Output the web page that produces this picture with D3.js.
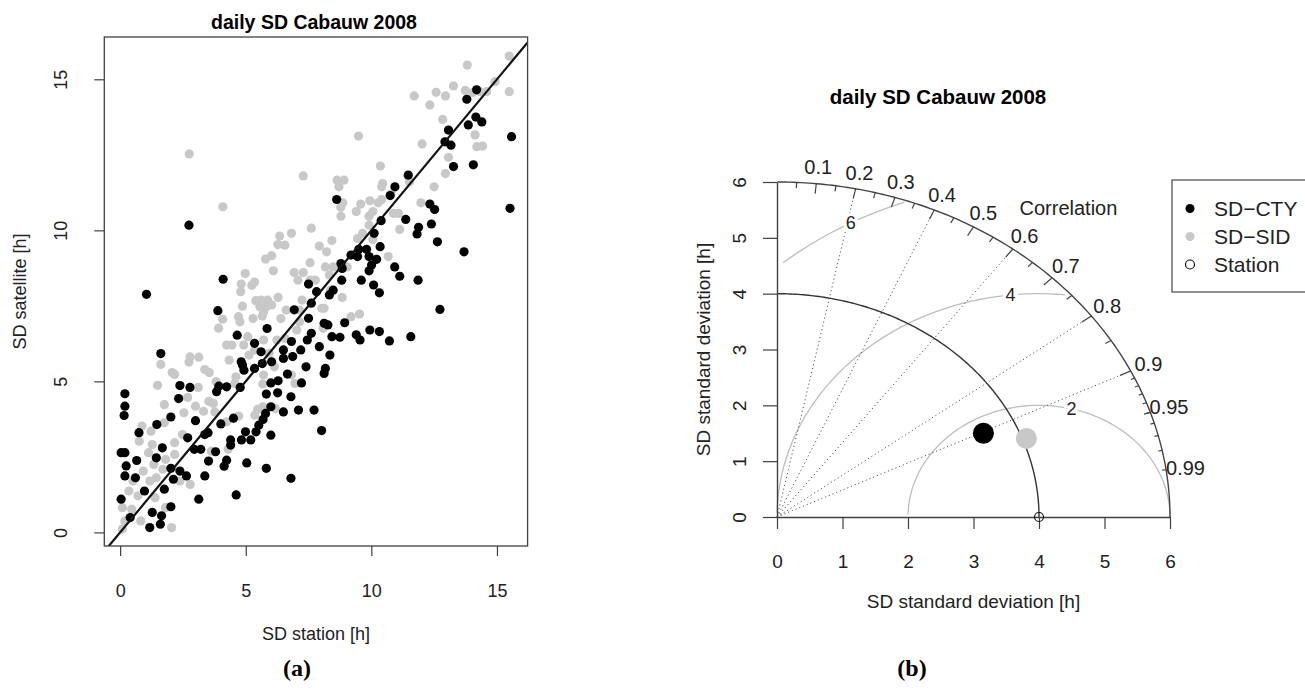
<!DOCTYPE html>
<html lang="en">
<head>
<meta charset="UTF-8">
<title>daily SD Cabauw 2008</title>
<script src="https://d3js.org/d3.v7.min.js"></script>
<style>
  body { margin: 0; background: #fff; }
  svg { font-family: "Liberation Sans", Arial, sans-serif; }
</style>
</head>
<body>
<svg id="chart" width="1305" height="688"></svg>
<script>
// scatter, [SD station, SD satellite] in hours
const sdCty = [
  [0.19,4.59],[0.19,4.18],[0.16,3.87],[2.38,4.86],[2.78,4.80],[2.33,4.43],[2.02,3.82],[1.46,3.57],[0.75,3.30],[3.00,3.70],
  [3.37,3.24],[2.69,3.13],[1.68,2.80],[0.04,2.64],[0.19,2.64],[0.66,2.38],[2.95,2.75],[3.21,2.75],[3.52,2.36],[0.24,2.20],
  [1.44,2.47],[2.02,2.12],[2.38,2.03],[2.64,1.87],[3.37,1.87],[0.19,1.87],[0.61,1.81],[0.97,1.37],[1.76,1.43],[2.12,1.76],
  [3.13,1.10],[0.04,1.10],[1.28,0.66],[1.65,0.55],[1.60,0.27],[1.18,0.16],[2.02,0.85],[0.40,0.49],
  [1.05,7.88],[1.62,5.92],[2.74,10.17],
  [3.84,4.66],[4.24,4.82],[4.78,4.80],[5.82,4.58],[6.27,4.62],[6.00,4.95],[7.22,4.95],[6.80,4.49],[6.50,3.99],[7.10,4.05],
  [7.72,4.05],[8.02,3.37],[6.00,4.16],[5.79,3.94],[5.69,3.74],[5.52,3.55],[5.41,3.33],[4.99,3.33],[4.83,3.06],[5.20,3.06],
  [6.00,3.22],[4.51,3.78],[4.01,3.59],[3.50,3.30],[4.40,3.06],[4.40,2.89],[3.80,2.67],[4.24,2.39],[4.14,2.19],[5.04,2.30],
  [5.82,2.12],[6.80,1.79],[4.62,1.24],
  [4.10,8.38],[3.89,7.34],[4.66,6.53],[5.85,6.75],[5.35,6.26],[5.61,5.98],[4.87,5.54],[4.93,5.37],[5.35,5.43],[5.66,5.59],
  [6.03,5.65],[6.50,6.04],[6.50,5.76],[6.87,5.82],[7.19,6.04],[6.82,6.32],[6.93,7.37],[7.50,7.09],[7.45,6.37],[7.61,6.59],
  [7.93,6.15],[7.82,7.97],[7.61,7.59],[7.50,8.22],[7.40,5.48],[6.66,5.24],[6.29,5.02],[3.93,4.84],[4.82,5.65],
  [10.39,10.32],[11.37,10.36],[11.88,10.10],[11.82,9.88],[12.39,10.21],[12.63,9.62],[10.11,9.90],[10.35,9.46],[9.81,9.37],
  [9.50,9.37],[9.45,9.13],[9.19,9.18],[9.91,9.13],[10.21,9.04],[10.01,8.85],[9.91,8.66],[8.79,8.90],[8.84,8.74],[8.82,8.35],
  [9.60,8.35],[10.09,8.19],[10.32,7.93],[10.93,8.79],[11.13,8.48],[11.86,8.35],[12.73,7.38],[8.48,8.02],[8.33,7.86],
  [8.12,6.92],[8.27,6.87],[8.94,6.94],[8.43,6.48],[8.75,6.46],[9.40,6.54],[9.55,6.37],[9.94,6.70],[10.32,6.65],[10.72,6.34],
  [11.57,6.48],[8.35,5.87],[8.17,5.43],[8.12,5.26],
  [12.93,12.93],[10.94,11.44],[11.47,11.83],[8.62,11.02],[12.33,10.87],[12.52,10.69],[10.75,11.15],
  [13.07,13.32],[13.17,12.82],[13.27,12.11],[13.80,14.34],[13.86,13.49],[14.16,13.75],[14.40,13.59],[14.19,14.65],
  [14.06,12.17],[15.58,13.10],[15.52,10.73],[13.69,9.29]
];
const sdSid = [
  [1.49,4.87],[1.76,4.23],[3.11,4.80],[2.69,4.47],[3.00,4.18],[3.32,4.01],[3.53,4.34],[2.54,3.96],[1.76,3.63],[0.87,3.52],
  [1.23,3.35],[0.76,3.02],[1.28,2.91],[2.17,2.97],[2.48,3.24],[2.17,2.58],[1.13,2.64],[1.34,2.25],[1.70,2.09],[0.92,2.03],
  [0.51,1.70],[1.44,1.81],[2.38,1.70],[2.79,1.59],[0.35,1.37],[0.71,1.21],[1.39,1.15],[0.09,0.82],[0.46,0.77],[0.19,0.38],
  [0.09,0.11],[0.82,0.38],[1.81,0.82],[2.05,0.16],[3.63,2.69],[1.18,1.70],[1.81,2.42],
  [1.62,5.56],[2.78,5.81],[2.74,5.64],[3.13,5.80],[3.37,5.39],[3.55,5.29],[2.07,5.29],[2.17,5.23],
  [3.82,4.99],[4.56,4.93],[5.68,4.91],[6.96,4.93],[3.71,4.27],[3.77,3.99],[4.24,3.66],[4.72,3.85],[5.36,3.88],[5.47,4.07],
  [5.68,4.16],[6.18,4.10],[4.30,2.75],
  [6.82,9.90],[7.61,10.07],[6.35,9.81],[6.28,9.53],[6.56,9.51],[7.93,9.48],[5.79,9.05],[6.03,9.16],[6.10,8.66],[7.56,8.93],
  [6.93,8.60],[4.98,8.57],[7.29,8.60],[7.08,8.35],[5.35,8.29],[4.82,8.22],[5.24,8.18],[4.80,7.97],[7.77,8.35],[6.29,7.78],
  [5.40,7.67],[5.61,7.69],[5.87,7.69],[6.03,7.53],[5.56,7.47],[5.71,7.30],[5.82,7.47],[5.66,7.16],[4.87,7.49],[5.29,7.08],
  [4.77,6.97],[4.08,7.06],[3.92,6.76],[4.71,7.14],[5.08,6.48],[4.92,6.20],[4.24,6.20],[4.45,6.20],[5.13,5.87],[4.34,5.70],
  [4.61,5.15],[6.40,7.08],[6.61,7.36],[7.14,7.36],[7.24,7.69],[7.14,6.97],[7.03,6.70],[6.24,6.37],[6.56,6.42],[5.71,6.37],
  [5.35,6.04],[5.93,5.93],[6.14,5.48],[6.82,5.21],[5.71,5.21],[8.03,7.42],[8.08,6.76],[7.56,8.35],
  [8.79,10.47],[9.40,10.62],[9.91,10.47],[10.06,10.62],[10.88,10.56],[11.08,10.56],[11.13,10.03],[9.91,10.17],[8.43,9.66],
  [9.45,9.73],[9.65,9.90],[10.06,9.70],[8.22,9.29],[8.48,8.79],[9.04,8.79],[8.17,8.79],[8.33,8.52],[10.67,9.13],[8.38,8.02],
  [8.84,7.78],[8.12,7.42],[9.19,7.14],[9.53,7.23],
  [11.71,14.45],[12.58,14.57],[12.33,14.15],[12.95,14.45],[12.84,13.67],[9.49,13.12],[12.02,12.86],[10.36,12.13],
  [10.45,11.55],[10.41,11.44],[8.64,11.66],[8.91,11.66],[8.71,11.44],[11.46,11.79],[11.52,11.61],[12.50,11.44],
  [12.95,11.88],[8.86,10.91],[8.78,10.76],[9.58,10.87],[9.94,10.98],[10.27,10.91],[10.41,11.02],[11.97,10.91],[10.78,11.20],
  [2.75,12.53],[7.29,11.80],[4.09,10.78],
  [13.82,15.47],[13.27,14.78],[13.74,14.63],[14.04,14.56],[14.33,14.59],[14.59,14.59],[14.92,14.92],[15.49,14.59],
  [15.49,15.77],[14.13,13.16],[14.20,12.77],[14.43,12.79],[13.07,12.42]
];
const scatterTicks = [0, 5, 10, 15];

// taylor diagram
const taylorNames = ["SD\u2212CTY", "SD\u2212SID", "Station"];
const taylorSd = [3.49, 4.06, 4.0];
const taylorCor = [0.903, 0.938, 1];
const taylorColors = ["#000000", "#c8c8c8", "none"];
const sdTicks = [0, 1, 2, 3, 4, 5, 6];
const corLabels = [0.1, 0.2, 0.3, 0.4, 0.5, 0.6, 0.7, 0.8, 0.9, 0.95, 0.99];
const corLines = [0.2, 0.4, 0.6, 0.8, 0.9];
const rmsLevels = [2, 4, 6];

const svg = d3.select("#chart");

// ---------- (a) scatter ----------
const x = d3.scaleLinear().domain([-0.63, 16.22]).range([104.3, 527.6]);
const y = d3.scaleLinear().domain([-0.45, 16.4]).range([546, 37]);

const left = svg.append("g");
left.append("clipPath").attr("id", "box")
  .append("rect")
  .attr("x", x.range()[0]).attr("y", y.range()[1])
  .attr("width", x.range()[1] - x.range()[0])
  .attr("height", y.range()[0] - y.range()[1]);

left.append("g").selectAll("circle")
  .data(sdSid).join("circle")
  .attr("cx", d => x(d[0])).attr("cy", d => y(d[1]))
  .attr("r", 4.6).attr("fill", "#c8c8c8");

left.append("g").selectAll("circle")
  .data(sdCty).join("circle")
  .attr("cx", d => x(d[0])).attr("cy", d => y(d[1]))
  .attr("r", 4.6).attr("fill", "#000");

// 1:1 line
left.append("line")
  .attr("clip-path", "url(#box)")
  .attr("x1", x(-1)).attr("y1", y(-1))
  .attr("x2", x(17)).attr("y2", y(17))
  .attr("stroke", "#111").attr("stroke-width", 2.2);

left.append("rect")
  .attr("x", x.range()[0]).attr("y", y.range()[1])
  .attr("width", x.range()[1] - x.range()[0])
  .attr("height", y.range()[0] - y.range()[1])
  .attr("fill", "none").attr("stroke", "#404040").attr("stroke-width", 1.3);

const xAxis = left.append("g")
  .attr("transform", `translate(0,${y.range()[0]})`)
  .call(d3.axisBottom(x).tickValues(scatterTicks).tickSize(10).tickPadding(28));
const yAxis = left.append("g")
  .attr("transform", `translate(${x.range()[0]},0)`)
  .call(d3.axisLeft(y).tickValues(scatterTicks).tickSize(10));

[xAxis, yAxis].forEach(g => {
  g.select(".domain").remove();
  g.attr("font-family", null).attr("font-size", null);
  g.selectAll("line").attr("stroke", "#404040").attr("stroke-width", 1.2);
  g.selectAll("text").attr("font-size", 18).attr("fill", "#222");
});
yAxis.selectAll("text")
  .attr("x", null).attr("dy", "0.36em")
  .attr("text-anchor", "middle")
  .attr("transform", "translate(-44,0) rotate(-90)");

left.append("text")
  .attr("x", 314).attr("y", 29)
  .attr("text-anchor", "middle").attr("font-weight", "bold").attr("font-size", 19.5)
  .text("daily SD Cabauw 2008");
left.append("text")
  .attr("x", (x.range()[0] + x.range()[1]) / 2).attr("y", 640)
  .attr("text-anchor", "middle").attr("font-size", 18).attr("fill", "#222")
  .text("SD station [h]");
left.append("text")
  .attr("transform", `translate(20,${(y.range()[0] + y.range()[1]) / 2}) rotate(-90)`)
  .attr("dy", "0.36em")
  .attr("text-anchor", "middle").attr("font-size", 18).attr("fill", "#222")
  .text("SD satellite [h]");
left.append("text")
  .attr("x", 297).attr("y", 676)
  .attr("text-anchor", "middle").attr("font-family", "'Liberation Serif', 'Times New Roman', serif")
  .attr("font-weight", "bold").attr("font-size", 24)
  .text("(a)");

// ---------- (b) taylor diagram ----------
const maxSd = d3.max(sdTicks);
const sdRef = taylorSd[2];
const tx = d3.scaleLinear().domain([0, maxSd]).range([777, 1170]);
const ty = d3.scaleLinear().domain([0, maxSd]).range([517, 182]);
const polar = (r, a) => [tx(r * Math.cos(a)), ty(r * Math.sin(a))];
const line = d3.line();

const right = svg.append("g");

// centred RMS arcs (sampled like plotrix::taylor.diagram)
const steps = d3.range(0, 105).map(i => i * 0.03);
const labelIdx = d3.range(rmsLevels.length).map(i =>
  Math.floor(45 + i * (70 - 45) / (rmsLevels.length - 1)) - 1);
rmsLevels.forEach((g, gi) => {
  const xs = steps.map(a => Math.cos(a) * g + sdRef);
  const ys = steps.map(a => Math.sin(a) * g);
  let end = xs.findIndex(v => v < 0);
  end = end >= 0 ? end - 1 : steps.length - 1;
  let start = -1;
  xs.forEach((v, i) => { if (v * v + ys[i] * ys[i] > maxSd * maxSd) start = i; });
  start += 1;
  const pts = d3.range(start, end + 1).map(i => [tx(xs[i]), ty(ys[i])]);
  right.append("path").attr("d", line(pts))
    .attr("fill", "none").attr("stroke", "#bebebe").attr("stroke-width", 1.3);
});

// correlation rays
right.append("g").selectAll("line")
  .data(corLines).join("line")
  .attr("x1", tx(0)).attr("y1", ty(0))
  .attr("x2", c => polar(maxSd, Math.acos(c))[0])
  .attr("y2", c => polar(maxSd, Math.acos(c))[1])
  .attr("stroke", "#555").attr("stroke-width", 1).attr("stroke-dasharray", "1.2,2.8");

// reference sd arc and outer arc
const quarter = d3.range(0, Math.PI / 2 + 0.005, 0.01).map(a => Math.min(a, Math.PI / 2));
right.append("path").attr("d", line(quarter.map(a => polar(sdRef, a))))
  .attr("fill", "none").attr("stroke", "#333").attr("stroke-width", 1.4);
right.append("path").attr("d", line(quarter.map(a => polar(maxSd, a))))
  .attr("fill", "none").attr("stroke", "#444").attr("stroke-width", 1.4);

// correlation ticks on the outer arc
const bigTicks = d3.range(1, 10).map(i => i / 10);
const medTicks = d3.range(0, 10).map(i => 0.05 + i / 10);
const smlTicks = d3.range(1, 10).map(i => 0.9 + i / 100);
[[bigTicks, 0.97], [medTicks, 0.983], [smlTicks, 0.99]].forEach(([set, f]) => {
  right.append("g").selectAll("line")
    .data(set).join("line")
    .attr("x1", c => polar(maxSd, Math.acos(c))[0])
    .attr("y1", c => polar(maxSd, Math.acos(c))[1])
    .attr("x2", c => polar(maxSd * f, Math.acos(c))[0])
    .attr("y2", c => polar(maxSd * f, Math.acos(c))[1])
    .attr("stroke", "#444").attr("stroke-width", 1.2);
});

right.append("g").selectAll("text")
  .data(corLabels).join("text")
  .attr("x", c => polar(maxSd * 1.05, Math.acos(c))[0])
  .attr("y", c => polar(maxSd * 1.05, Math.acos(c))[1])
  .attr("dy", "0.36em").attr("text-anchor", "middle")
  .attr("font-size", 20).attr("fill", "#222")
  .text(c => String(c));
right.append("text")
  .attr("x", tx(4.45)).attr("y", ty(5.53)).attr("dy", "0.36em")
  .attr("text-anchor", "middle").attr("font-size", 20).attr("fill", "#222")
  .text("Correlation");

// RMS labels with white backing
right.append("g").selectAll("text")
  .data(rmsLevels).join("text")
  .attr("x", (g, i) => tx(Math.cos(steps[labelIdx[i]]) * g + sdRef))
  .attr("y", (g, i) => ty(Math.sin(steps[labelIdx[i]]) * g))
  .attr("dy", "0.36em").attr("text-anchor", "middle")
  .attr("font-size", 18).attr("fill", "#222")
  .attr("stroke", "#fff").attr("stroke-width", 6).attr("paint-order", "stroke")
  .text(g => g);

// axes
const txAxis = right.append("g")
  .attr("transform", `translate(0,${ty(0)})`)
  .call(d3.axisBottom(tx).tickValues(sdTicks).tickFormat(d3.format("d"))
    .tickSize(12).tickSizeOuter(0).tickPadding(26));
const tyAxis = right.append("g")
  .attr("transform", `translate(${tx(0)},0)`)
  .call(d3.axisLeft(ty).tickValues(sdTicks).tickFormat(d3.format("d"))
    .tickSize(14).tickSizeOuter(0));
[txAxis, tyAxis].forEach(g => {
  g.attr("font-family", null).attr("font-size", null);
  g.select(".domain").attr("stroke", "#404040").attr("stroke-width", 1.4);
  g.selectAll("line").attr("stroke", "#404040").attr("stroke-width", 1.2);
  g.selectAll("text").attr("font-size", 19).attr("fill", "#222");
});
tyAxis.selectAll("text")
  .attr("x", null).attr("dy", "0.36em")
  .attr("text-anchor", "middle")
  .attr("transform", "translate(-38,0) rotate(-90)");

// model points
right.append("g").selectAll("circle")
  .data(taylorSd.slice(0, 2)).join("circle")
  .attr("cx", (s, i) => polar(s, Math.acos(taylorCor[i]))[0])
  .attr("cy", (s, i) => polar(s, Math.acos(taylorCor[i]))[1])
  .attr("r", 10.5).attr("fill", (s, i) => taylorColors[i]);
right.append("circle")
  .attr("cx", polar(taylorSd[2], Math.acos(taylorCor[2]))[0])
  .attr("cy", polar(taylorSd[2], Math.acos(taylorCor[2]))[1])
  .attr("r", 4.5).attr("fill", "none").attr("stroke", "#111").attr("stroke-width", 1.2);

// titles
right.append("text")
  .attr("x", 938).attr("y", 104)
  .attr("text-anchor", "middle").attr("font-weight", "bold").attr("font-size", 20.5)
  .text("daily SD Cabauw 2008");
right.append("text")
  .attr("x", (tx.range()[0] + tx.range()[1]) / 2).attr("y", 608)
  .attr("text-anchor", "middle").attr("font-size", 19).attr("fill", "#222")
  .text("SD standard deviation [h]");
right.append("text")
  .attr("transform", `translate(703,${(ty(0) + ty(maxSd)) / 2}) rotate(-90)`)
  .attr("dy", "0.36em")
  .attr("text-anchor", "middle").attr("font-size", 19).attr("fill", "#222")
  .text("SD standard deviation [h]");
right.append("text")
  .attr("x", 912).attr("y", 676)
  .attr("text-anchor", "middle").attr("font-family", "'Liberation Serif', 'Times New Roman', serif")
  .attr("font-weight", "bold").attr("font-size", 24)
  .text("(b)");

// legend
const legend = right.append("g").attr("transform", "translate(1172,180)");
legend.append("rect")
  .attr("width", 160).attr("height", 112)
  .attr("fill", "#fff").attr("stroke", "#555").attr("stroke-width", 1.3);
const rows = legend.selectAll("g.row")
  .data(taylorNames).join("g").attr("class", "row")
  .attr("transform", (d, i) => `translate(0,${28.5 + i * 28})`);
rows.append("circle")
  .attr("cx", 18).attr("r", 4.5)
  .attr("fill", (d, i) => taylorColors[i])
  .attr("stroke", (d, i) => i === 2 ? "#111" : "none").attr("stroke-width", 1.2);
rows.append("text")
  .attr("x", 42).attr("dy", "0.36em")
  .attr("font-size", 21).attr("fill", "#222")
  .text(d => d);
</script>
</body>
</html>
